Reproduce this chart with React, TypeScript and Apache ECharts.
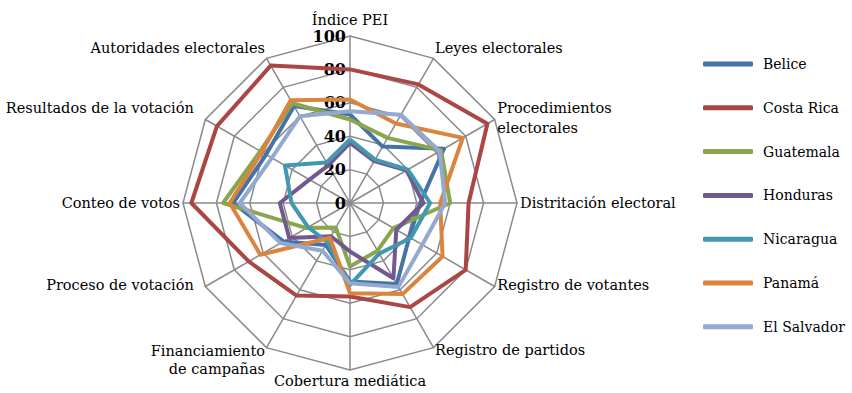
import React, { useEffect, useRef } from "react";
import * as echarts from "echarts";

const indicatorNames = [
  "Índice PEI",
  "Leyes electorales",
  "Procedimientos\nelectorales",
  "Distritación electoral",
  "Registro de votantes",
  "Registro de partidos",
  "Cobertura mediática",
  "Financiamiento\nde campañas",
  "Proceso de votación",
  "Conteo de votos",
  "Resultados de la votación",
  "Autoridades electorales",
];

const countries = ["Belice", "Costa Rica", "Guatemala", "Honduras", "Nicaragua", "Panamá", "El Salvador"];
const colors = ["#4572A7", "#AA4643", "#89A54E", "#71588F", "#4198AF", "#DB843D", "#93A9CF"];

const belice = [53, 39, 65, 42, 41, 56, 47, 29, 46, 70, 58, 67];
const costaRica = [80, 82, 95, 71, 80, 72, 56, 64, 70, 95, 92, 95];
const guatemala = [50, 45, 63, 60, 30, 33, 38, 17, 30, 76, 62, 69];
const honduras = [36, 29, 39, 44, 32, 52, 29, 23, 42, 42, 28, 26];
const nicaragua = [38, 30, 40, 48, 42, 35, 49, 27, 29, 35, 45, 28];
const panama = [62, 55, 78, 54, 64, 63, 54, 24, 62, 72, 61, 71];
const elSalvador = [55, 61, 62, 57, 50, 58, 48, 33, 48, 66, 54, 60];

const seriesValues = [belice, costaRica, guatemala, honduras, nicaragua, panama, elSalvador];

const axisMax = 100;

// presentational rich-style keys per indicator line
const nameStyleKeys = [
  ["top"],
  ["up"],
  ["two", "two"],
  ["plain"],
  ["up2"],
  ["plain"],
  ["plain"],
  ["fin1", "two"],
  ["proc"],
  ["plain"],
  ["res"],
  ["up"],
];

export default function App() {
  const ref = useRef<HTMLDivElement>(null);
  useEffect(() => {
    if (!ref.current) return;
    const chart = echarts.init(ref.current, null, { renderer: "svg" });
    // ECharts lays radar indicators counter-clockwise; reorder to get clockwise
    const order = [0, ...indicatorNames.map((_, i) => i).slice(1).reverse()];
    const font = "DejaVu Serif";
    const base = { color: "#000", fontFamily: font, fontSize: 14.5 };
    chart.setOption({
      animation: false,
      backgroundColor: "#ffffff",
      legend: {
        orient: "vertical",
        left: 703,
        top: 57,
        padding: 0,
        itemWidth: 50,
        itemHeight: 5,
        itemGap: 29.8,
        icon: "roundRect",
        data: countries,
        textStyle: { fontFamily: font, fontSize: 14, color: "#000", padding: [0, 0, 0, 5] },
      },
      radar: {
        center: [350, 203],
        radius: 167,
        shape: "polygon",
        splitNumber: 5,
        nameGap: 3,
        axisName: {
          ...base,
          formatter: (name: string) => {
            const idx = indicatorNames.indexOf(name);
            const keys = nameStyleKeys[idx];
            return name
              .split("\n")
              .map((l, j) => `{${keys[j] || "plain"}|${l}}`)
              .join("\n");
          },
          rich: {
            top: { ...base, padding: [0, 0, 6, 0] },
            up: { ...base, padding: [0, 0, 15, 0] },
            up2: { ...base, padding: [0, 0, 6, 0] },
            res: { ...base, padding: [0, 9, 20, 0] },
            proc: { ...base, padding: [0, 9, 6, 0] },
            two: { ...base, lineHeight: 20 },
            fin1: { ...base, padding: [22, 0, 0, 0] },
            plain: { ...base },
          },
        },
        indicator: order.map((i, k) => ({
          name: indicatorNames[i],
          max: axisMax,
          min: 0,
          axisLabel:
            k === 0
              ? { show: true, color: "#000", fontFamily: font, fontSize: 16, fontWeight: "bold", margin: 4 }
              : { show: false },
        })),
        splitLine: { lineStyle: { color: "#8a8a8a", width: 1.5 } },
        axisLine: { lineStyle: { color: "#8a8a8a", width: 1.5 } },
        splitArea: { show: false },
      },
      series: countries.map((c, s) => ({
        type: "radar",
        name: c,
        symbol: "none",
        color: colors[s],
        lineStyle: { color: colors[s], width: 4 },
        data: [{ name: c, value: order.map((i) => seriesValues[s][i]) }],
      })),
    });
    return () => chart.dispose();
  }, []);
  return <div ref={ref} style={{ position: "fixed", left: 0, top: 0, width: 852, height: 393 }} />;
}
